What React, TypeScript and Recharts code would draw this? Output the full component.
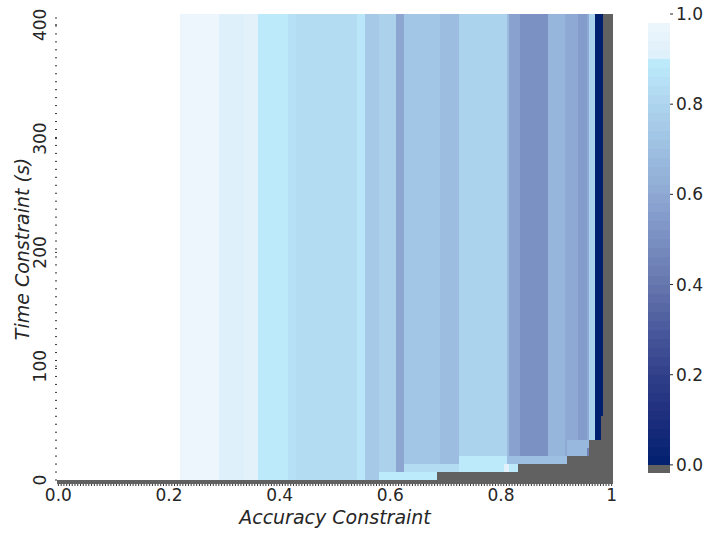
import React from "react";
import { ComposedChart, ReferenceArea, Scatter, XAxis, YAxis } from "recharts";

// accuracy where each column starts; the last entry closes the last column
const colEdges = [
  0.22, 0.29, 0.335, 0.36, 0.415, 0.43, 0.54, 0.555, 0.58, 0.61, 0.625, 0.69,
  0.725, 0.81, 0.815, 0.835, 0.885, 0.915, 0.94, 0.955, 0.96, 0.97, 0.985,
];
// normalized score for each column (upper part)
const colValues = [
  0.975, 0.91, 0.93, 0.89, 0.85, 0.83, 0.875, 0.745, 0.78, 0.59, 0.73, 0.69,
  0.79, 0.685, 0.57, 0.505, 0.66, 0.6, 0.55, 0.6, 0.785, 0.0,
];

// short time budgets where the score differs from the column above
const patchX1 = [0.58, 0.625, 0.725, 0.805, 0.815, 0.725, 0.81, 0.92, 0.955];
const patchX2 = [0.685, 0.725, 0.805, 0.815, 0.83, 0.81, 0.92, 0.96, 0.96];
const patchT1 = [0, 7, 7, 7, 7, 14, 14, 21, 21];
const patchT2 = [7, 14, 14, 14, 14, 21, 21, 35, 28];
const patchValues = [0.895, 0.83, 0.89, 0.93, 0.89, 0.89, 0.7, 0.67, 0.45];

// infeasible region: from this accuracy on, time below floorTime is gray
const floorFrom = [-0.0025, 0.685, 0.83, 0.92, 0.96, 0.98, 0.985];
const floorTime = [0, 7, 14, 21, 35, 56, 409.5];

const xLabelValues = [0, 0.2, 0.4, 0.6, 0.8, 1];
const xLabels = ["0.0", "0.2", "0.4", "0.6", "0.8", "1"];
const yLabelValues = [0, 100, 200, 300, 400];
const yLabels = ["0", "100", "200", "300", "400"];
const cbTicks = [0, 0.2, 0.4, 0.6, 0.8, 1];

// colormap (values below 0.9 go navy -> light cyan, 0.9+ is a pale ramp)
const cmapStops = [0, 0.1, 0.2, 0.3, 0.4, 0.5, 0.6, 0.7, 0.8, 0.9];
const cmapColors = [
  "#00206f", "#1c2d7c", "#303f89", "#4a599c", "#6676ae",
  "#7a8fc2", "#8ea9d3", "#9dbfe1", "#aed5ee", "#bdecfc",
];
const PALE_LOW = "#dcefF9";
const PALE_HIGH = "#f2f8fd";
const GRAY = "#616161";
const TEXT = "#262626";

const X_MIN = -0.0025;
const X_MAX = 1.0025;
const T_MIN = -3.5;
const T_MAX = 409.5;

function hexToRgb(h: string) {
  const n = parseInt(h.slice(1), 16);
  return [(n >> 16) & 255, (n >> 8) & 255, n & 255];
}
function mix(a: string, b: string, f: number) {
  const A = hexToRgb(a);
  const B = hexToRgb(b);
  const c = A.map((v, i) => Math.round(v + (B[i] - v) * f));
  return `rgb(${c[0]},${c[1]},${c[2]})`;
}
function colorFor(v: number) {
  if (v >= 0.9) return mix(PALE_LOW, PALE_HIGH, (v - 0.9) / 0.1);
  for (let i = 0; i < cmapStops.length - 1; i++) {
    if (v <= cmapStops[i + 1]) {
      return mix(cmapColors[i], cmapColors[i + 1], (v - cmapStops[i]) / 0.1);
    }
  }
  return cmapColors[cmapColors.length - 1];
}

interface Cell {
  x1: number;
  x2: number;
  t1: number;
  t2: number;
  fill: string;
}

const cells: Cell[] = [];
colValues.forEach((v, i) => {
  cells.push({ x1: colEdges[i], x2: colEdges[i + 1], t1: 0, t2: T_MAX, fill: colorFor(v) });
});
patchValues.forEach((v, i) => {
  cells.push({ x1: patchX1[i], x2: patchX2[i], t1: patchT1[i], t2: patchT2[i], fill: colorFor(v) });
});
floorFrom.forEach((fx, i) => {
  cells.push({
    x1: fx,
    x2: i < floorFrom.length - 1 ? floorFrom[i + 1] : X_MAX,
    t1: T_MIN,
    t2: floorTime[i],
    fill: GRAY,
  });
});

const centers = colValues.map((_, i) => ({
  x: (colEdges[i] + colEdges[i + 1]) / 2,
  t: T_MAX / 2,
}));

// one minor tick per grid column / row
const xTicks = Array.from({ length: 201 }, (_, i) => i * 0.005);
const yTicks = Array.from({ length: 59 }, (_, i) => i * 7).concat([100, 200, 300, 400]);

// colorbar bands
const cbBands = Array.from({ length: 49 }, (_, i) => i * 0.02);

const crisp = (p: any) => (
  <rect x={p.x} y={p.y} width={p.width} height={p.height} fill={p.fill} shapeRendering="crispEdges" />
);

function XTick(props: any) {
  const { x, y, payload } = props;
  const idx = xLabelValues.findIndex((v) => Math.abs(v - payload.value) < 1e-9);
  if (idx < 0) return <g />;
  return (
    <text x={x} y={y + 13} textAnchor="middle" fontSize={17} fill={TEXT}>
      {xLabels[idx]}
    </text>
  );
}

function YTick(props: any) {
  const { x, y, payload } = props;
  const idx = yLabelValues.indexOf(payload.value);
  if (idx < 0) return <g />;
  return (
    <text transform={`translate(${x - 7},${y}) rotate(-90)`} textAnchor="middle" fontSize={17} fill={TEXT}>
      {yLabels[idx]}
    </text>
  );
}

function YLabel(props: any) {
  const vb = props.viewBox || { x: 0, y: 14, width: 57, height: 470 };
  const cx = vb.x + 29;
  const cy = vb.y + vb.height / 2;
  return (
    <text transform={`translate(${cx},${cy}) rotate(-90)`} textAnchor="middle" fontSize={19} fontStyle="italic" fill={TEXT}>
      Time Constraint (s)
    </text>
  );
}

export default function App() {
  return (
    <div
      style={{
        position: "absolute",
        left: 0,
        top: 0,
        width: 708,
        height: 535,
        background: "#fff",
        fontFamily: "'DejaVu Sans', sans-serif",
      }}
    >
      <ComposedChart
        width={708}
        height={535}
        margin={{ top: 14, right: 95, bottom: 0, left: 0 }}
        style={{ position: "absolute", left: 0, top: 0 }}
      >
        <XAxis
          type="number"
          dataKey="x"
          domain={[X_MIN, X_MAX]}
          allowDataOverflow
          ticks={xTicks}
          interval={0}
          height={51}
          axisLine={false}
          tickSize={2}
          tickLine={{ stroke: "#333" }}
          tick={XTick}
          label={{
            value: "Accuracy Constraint",
            position: "insideBottom",
            offset: 11,
            fontSize: 19,
            fontStyle: "italic",
            fill: TEXT,
          }}
        />
        <YAxis
          type="number"
          dataKey="t"
          domain={[T_MIN, T_MAX]}
          allowDataOverflow
          ticks={yTicks}
          interval={0}
          width={57}
          axisLine={false}
          tickSize={2}
          tickLine={{ stroke: "#333" }}
          tick={YTick}
          label={(p: any) => <YLabel {...p} />}
        />
        {cells.map((c, i) => (
          <ReferenceArea
            key={i}
            x1={c.x1}
            x2={c.x2}
            y1={c.t1}
            y2={c.t2}
            fill={c.fill}
            fillOpacity={1}
            stroke="none"
            shape={crisp}
          />
        ))}
        <Scatter data={centers} isAnimationActive={false} shape={() => <g />} />
      </ComposedChart>

      <ComposedChart
        width={68}
        height={535}
        margin={{ top: 14, right: 0, bottom: 62, left: 8 }}
        style={{ position: "absolute", left: 640, top: 0 }}
      >
        <XAxis type="number" dataKey="x" domain={[0, 1]} hide />
        <YAxis
          type="number"
          dataKey="v"
          orientation="right"
          domain={[-0.018, 1]}
          allowDataOverflow
          ticks={cbTicks}
          interval={0}
          width={38}
          axisLine={false}
          tickSize={3}
          tickMargin={3}
          tickLine={{ stroke: TEXT }}
          tick={{ fontSize: 17, fill: TEXT }}
          tickFormatter={(v: number) => v.toFixed(1)}
        />
        {cbBands.map((lo, i) => (
          <ReferenceArea
            key={i}
            x1={0}
            x2={1}
            y1={lo}
            y2={lo + 0.02}
            fill={colorFor(lo + 0.01)}
            fillOpacity={1}
            stroke="none"
            shape={crisp}
          />
        ))}
        <ReferenceArea x1={0} x2={1} y1={-0.018} y2={0} fill={GRAY} fillOpacity={1} stroke="none" shape={crisp} />
        <Scatter data={[{ x: 0.5, v: 0.5 }]} isAnimationActive={false} shape={() => <g />} />
      </ComposedChart>
    </div>
  );
}
